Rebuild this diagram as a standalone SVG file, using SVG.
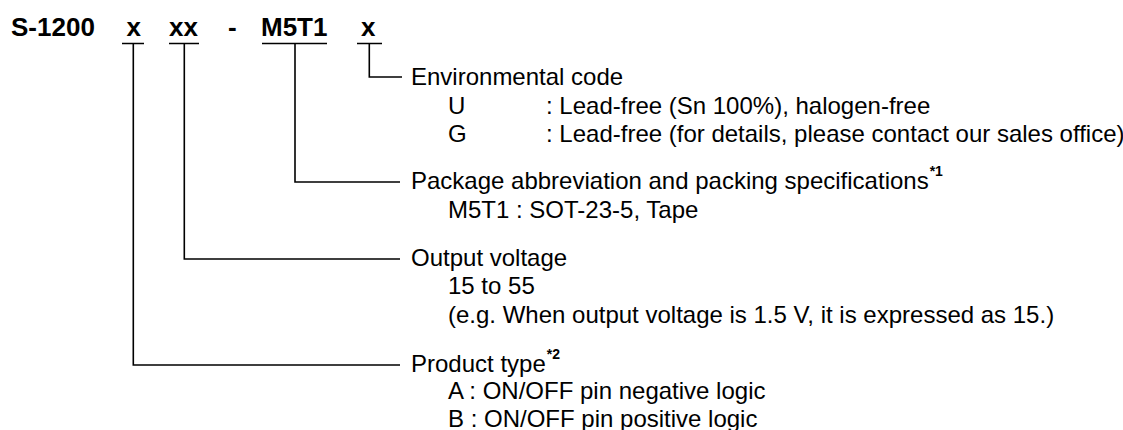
<svg xmlns="http://www.w3.org/2000/svg" width="1123" height="430" viewBox="0 0 1123 430">
<style>
.t{font-family:"Liberation Sans",Arial,sans-serif;font-size:24px;fill:#000}
.h{font-family:"Liberation Sans",Arial,sans-serif;font-size:26px;font-weight:bold;fill:#000}
.sup{font-size:14px;font-weight:bold}
.ln{stroke:#000;stroke-width:1.6;fill:none}
</style>
<rect width="1123" height="430" fill="#fff"/>
<g id="title">
<text class="h" x="11" y="36">S-1200</text>
<text class="h" x="126.5" y="36">x</text>
<text class="h" x="169" y="36">xx</text>
<text class="h" x="228" y="36">-</text>
<text class="h" x="261" y="36">M5T1</text>
<text class="h" x="361" y="36">x</text>
</g>
<g id="connectors">
<path class="ln" d="M122 43.5H144M169 43.5H199M262 43.5H327M357 43.5H382"/>
<path class="ln" d="M369.3 43.5V77H402"/>
<path class="ln" d="M295 43.5V182H400"/>
<path class="ln" d="M184.3 43.5V259H400"/>
<path class="ln" d="M133.3 43.5V365H400"/>
</g>
<g id="env">
<text class="t" x="411" y="85">Environmental code</text>
<text class="t" x="448" y="113.5">U</text>
<text class="t" x="546" y="113.5">: Lead-free (Sn 100%), halogen-free</text>
<text class="t" x="448" y="142">G</text>
<text class="t" x="546" y="142">: Lead-free (for details, please contact our sales office)</text>
</g>
<g id="package">
<text class="t" x="411" y="189">Package abbreviation and packing specifications<tspan class="sup" dx="1" dy="-13">*1</tspan></text>
<text class="t" x="448" y="217.5">M5T1 : SOT-23-5, Tape</text>
</g>
<g id="output">
<text class="t" x="411" y="265.5">Output voltage</text>
<text class="t" x="448" y="294">15 to 55</text>
<text class="t" x="448" y="322.5">(e.g. When output voltage is 1.5 V, it is expressed as 15.)</text>
</g>
<g id="product">
<text class="t" x="411" y="371.5">Product type<tspan class="sup" dx="1" dy="-13">*2</tspan></text>
<text class="t" x="448" y="399">A : ON/OFF pin negative logic</text>
<text class="t" x="448" y="426.5">B : ON/OFF pin positive logic</text>
</g>
</svg>
